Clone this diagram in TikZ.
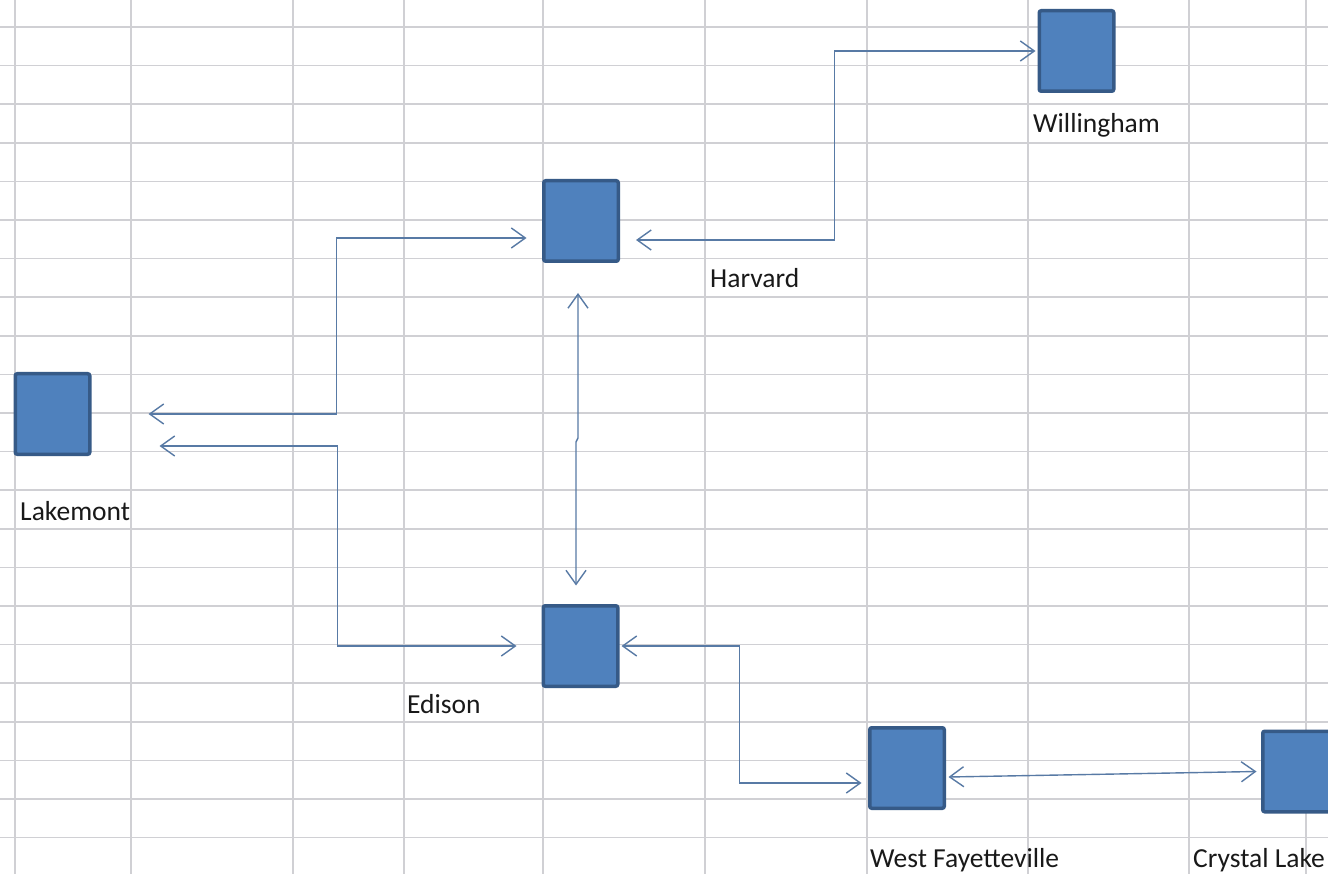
\documentclass[tikz,border=0pt]{standalone}
\usepackage{fontspec}
\setmainfont{Carlito}
\usetikzlibrary{arrows.meta}
\definecolor{gridc}{RGB}{208,208,212}
\definecolor{boxfill}{RGB}{79,129,189}
\definecolor{boxdraw}{RGB}{54,90,135}
\definecolor{linkc}{RGB}{88,122,165}
\definecolor{txtc}{RGB}{25,25,25}
\begin{document}
\begin{tikzpicture}[x=1pt,y=-1pt,
  station/.style={draw=boxdraw,fill=boxfill,line width=3.5pt,rounded corners=2pt,minimum width=74.5pt,minimum height=80.5pt,inner sep=0pt},
  lbl/.style={anchor=base west,inner sep=0pt,text=txtc,font=\fontsize{27.5}{31}\selectfont},
  gridline/.style={draw=gridc,line width=1.5pt},
  link/.style={draw=linkc,line width=1.4pt,{Straight Barb[length=14pt,width=20pt]}-{Straight Barb[length=14pt,width=20pt]}}
]
\clip (0,0) rectangle (1328,874);
\fill[white] (0,0) rectangle (1328,874);
% spreadsheet grid
\foreach \x in {15,131,293,404,543,705,867,1028,1189,1306}
  \draw[gridline] (\x,0) -- (\x,874);
\foreach \k in {0,...,21}
  \draw[gridline] (0,{27+38.6*\k}) -- (1328,{27+38.6*\k});
% stations
\node[station] (harvard) at (581,221) {};
\node[station] (willingham) at (1076.5,51) {};
\node[station] (lakemont) at (52.5,414) {};
\node[station] (edison) at (580.5,646) {};
\node[station] (wf) at (907,768) {};
\node[station] (crystal) at (1300,771.5) {};
% labels
\node[lbl] (lwill) at (1033,133) {Willingham};
\node[lbl] (lharv) at (710,288) {Harvard};
\node[lbl] (llake) at (20,520) {Lakemont};
\node[lbl] (ledis) at (407,713) {Edison};
\node[lbl] (lwf) at (870,867) {West Fayetteville};
\node[lbl] (lcry) at (1193,867) {Crystal Lake};
% connectors
\draw[link] ([xshift=16pt,yshift=-19pt]harvard.east) -| ([xshift=-203pt]willingham.west) -- ([xshift=-2pt]willingham.west);
\draw[link] ([xshift=57pt]lakemont.east) -| ([xshift=-205.5pt,yshift=-17pt]harvard.west) -- ([xshift=-15.5pt,yshift=-17pt]harvard.west);
\draw[link] ([xshift=68pt,yshift=-32pt]lakemont.east) -| ([xshift=-204pt]edison.west) -- ([xshift=-25pt]edison.west);
\draw[link] ([xshift=-3pt,yshift=-30pt]harvard.south) -- ++(0,145) -- ++(-2,4) -- ([xshift=-4.5pt,yshift=18.5pt]edison.north);
\draw[link] ([xshift=2pt]edison.east) -| ([xshift=-128.5pt,yshift=-15pt]wf.west) -- ([xshift=-6.5pt,yshift=-15pt]wf.west);
\draw[link] ([xshift=2.5pt,yshift=-9pt]wf.east) -- ([xshift=-4.5pt]crystal.west);
\end{tikzpicture}
\end{document}
